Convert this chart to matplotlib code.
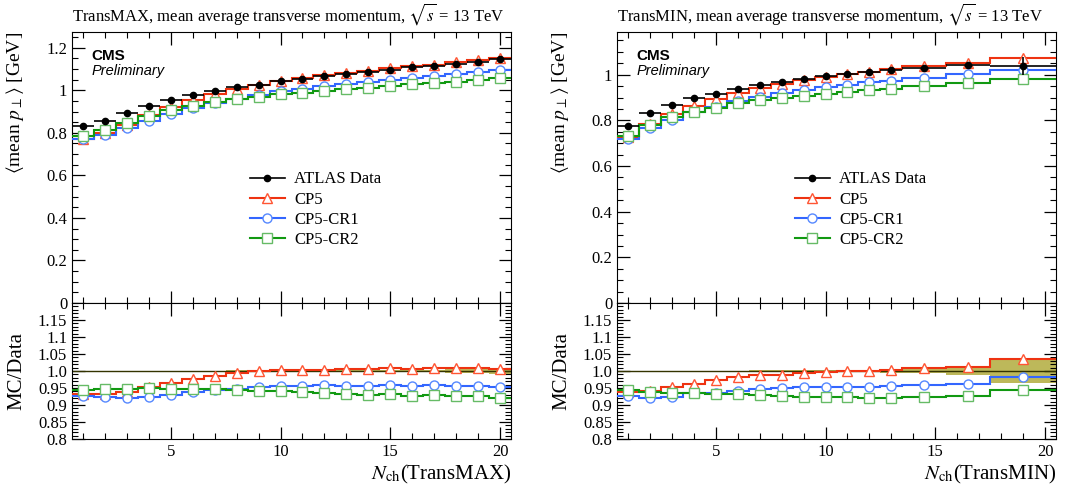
import numpy as np
import matplotlib
matplotlib.use("Agg")
import matplotlib.pyplot as plt
from matplotlib.lines import Line2D
from matplotlib.ticker import MultipleLocator, FixedLocator

plt.rcParams['font.family'] = 'serif'
plt.rcParams['font.serif'] = ['Liberation Serif', 'DejaVu Serif']
plt.rcParams['mathtext.fontset'] = 'stix'

# ---- TransMAX (left) ----
max_edges = [0.5 + i for i in range(21)]
max_data = [0.830, 0.856, 0.894, 0.928, 0.956, 0.978, 0.998, 1.014, 1.027, 1.042,
            1.053, 1.066, 1.077, 1.0875, 1.094, 1.109, 1.1125, 1.123, 1.133, 1.148]
max_err = [0.001, 0.001, 0.001, 0.001, 0.001, 0.001, 0.001, 0.0015, 0.0015, 0.002,
           0.002, 0.002, 0.003, 0.003, 0.003, 0.004, 0.0045, 0.0055, 0.007, 0.009]
max_cp5 = [0.773, 0.799, 0.839, 0.883, 0.921, 0.954, 0.982, 1.007, 1.026, 1.044,
           1.057, 1.070, 1.082, 1.093, 1.104, 1.116, 1.121, 1.132, 1.142, 1.154]
max_cr1 = [0.769, 0.790, 0.822, 0.856, 0.888, 0.917, 0.942, 0.961, 0.980, 0.997,
           1.006, 1.021, 1.031, 1.039, 1.048, 1.059, 1.068, 1.075, 1.084, 1.094]
max_cr2 = [0.784, 0.811, 0.847, 0.881, 0.906, 0.926, 0.945, 0.958, 0.968, 0.981,
           0.989, 0.998, 1.005, 1.012, 1.021, 1.028, 1.034, 1.041, 1.050, 1.057]

# ---- TransMIN (right) ----
min_edges = [0.5, 1.5, 2.5, 3.5, 4.5, 5.5, 6.5, 7.5, 8.5, 9.5, 10.5, 11.5, 12.5,
             13.5, 15.5, 17.5, 20.5]
min_data = [0.777, 0.832, 0.868, 0.896, 0.917, 0.938, 0.954, 0.968, 0.981, 0.993,
            1.003, 1.013, 1.020, 1.029, 1.041, 1.038]
min_err = [0.001, 0.001, 0.001, 0.001, 0.001, 0.001, 0.0015, 0.002, 0.002, 0.0025,
           0.003, 0.004, 0.005, 0.007, 0.013, 0.038]
min_cp5 = [0.728, 0.783, 0.826, 0.862, 0.893, 0.921, 0.942, 0.958, 0.975, 0.990,
           1.002, 1.013, 1.024, 1.037, 1.053, 1.074]
min_cr1 = [0.720, 0.765, 0.802, 0.837, 0.859, 0.884, 0.903, 0.920, 0.934, 0.946,
           0.957, 0.966, 0.974, 0.986, 1.002, 1.021]
min_cr2 = [0.733, 0.781, 0.813, 0.838, 0.856, 0.874, 0.887, 0.897, 0.906, 0.917,
           0.925, 0.932, 0.938, 0.949, 0.963, 0.981]

labels = ['ATLAS Data', 'CP5', 'CP5-CR1', 'CP5-CR2']
colors = ['#ee3311', '#3366ff', '#119911']
edgecols = ['#ff5533', '#5588ff', '#66bb66']
markers = ['^', 'o', 's']
band_col = '#bdb85a'

W, H = 1075, 486
fig = plt.figure(figsize=(W / 100, H / 100), dpi=100)


def px(x0, y0, w, h):
    return [x0 / W, (H - y0 - h) / H, w / W, h / H]


def style_ax(ax):
    ax.tick_params(which='both', direction='in', top=True, right=True, labelsize=12)
    ax.tick_params(which='major', length=9, width=0.9)
    ax.tick_params(which='minor', length=4.5, width=0.8)
    ax.xaxis.set_major_locator(MultipleLocator(5))
    ax.xaxis.set_minor_locator(MultipleLocator(1))
    ax.set_xlim(0.5, 20.5)


def draw(x0, top_ylim, edges, data, err, mcs, title, xname):
    edges = np.array(edges)
    cen = 0.5 * (edges[1:] + edges[:-1])
    hw = 0.5 * (edges[1:] - edges[:-1])
    data = np.array(data)
    err = np.array(err)

    ax = fig.add_axes(px(x0, 32, 439, 271))
    rax = fig.add_axes(px(x0, 303, 439, 136))
    style_ax(ax)
    style_ax(rax)

    # main panel
    for mc, c, ec, m in zip(mcs, colors, edgecols, markers):
        ax.stairs(mc, edges, baseline=None, color=c, lw=1.5, zorder=3)
        ax.plot(cen, mc, ls='none', marker=m, ms=6.5, mfc='white', mec=ec, mew=1.0, zorder=4)
    ax.errorbar(cen, data, xerr=hw, yerr=err, fmt='o', color='k', ms=4.5,
                elinewidth=1.2, capsize=0, zorder=5)
    ax.set_ylim(*top_ylim)
    ax.yaxis.set_major_locator(MultipleLocator(0.2))
    ax.yaxis.set_minor_locator(MultipleLocator(0.05))
    ax.yaxis.set_major_formatter(plt.FuncFormatter(lambda v, p: '%g' % round(v, 2)))
    ax.tick_params(labelbottom=False)
    ax.set_ylabel(r'$\langle$mean $p_\perp\rangle$ [GeV]', fontsize=14, loc='top')
    ax.yaxis.set_label_coords(-0.105, 1.0)
    ax.set_title(title, fontsize=12, loc='left', pad=8)
    ax.text(0.045, 0.91, 'CMS', transform=ax.transAxes, fontsize=11,
            fontweight='bold', family='Liberation Sans', va='center')
    ax.text(0.045, 0.855, 'Preliminary', transform=ax.transAxes, fontsize=10.5,
            style='italic', family='Liberation Sans', va='center')

    handles = [Line2D([], [], color='k', marker='o', ms=4.5, lw=1.2)]
    for c, ec, m in zip(colors, edgecols, markers):
        handles.append(Line2D([], [], color=c, lw=1.5, marker=m, ms=6.5, mfc='white', mec=ec))
    ax.legend(handles, labels, loc='upper left', bbox_to_anchor=(0.39, 0.51),
              frameon=False, fontsize=12, handlelength=2.1, labelspacing=0.25,
              handletextpad=0.55, borderaxespad=0)

    # ratio panel
    rel = err / data
    rax.stairs(1 + rel, edges, baseline=1 - rel, fill=True, color=band_col, zorder=1)
    rax.axhline(1.0, color='#333300', lw=1.0, zorder=2)
    for mc, c, ec, m in zip(mcs, colors, edgecols, markers):
        r = np.array(mc) / data
        rax.stairs(r, edges, baseline=None, color=c, lw=1.5, zorder=3)
        rax.plot(cen, r, ls='none', marker=m, ms=6.5, mfc='white', mec=ec, mew=1.0, zorder=4)
    rax.set_ylim(0.8, 1.2)
    rticks = [0.8, 0.85, 0.9, 0.95, 1.0, 1.05, 1.1, 1.15]
    rax.yaxis.set_major_locator(FixedLocator(rticks))
    rax.set_yticklabels(['0.8', '0.85', '0.9', '0.95', '1.0', '1.05', '1.1', '1.15'])
    rax.yaxis.set_minor_locator(MultipleLocator(0.01))
    rax.set_ylabel('MC/Data', fontsize=15)
    rax.yaxis.set_label_coords(-0.105, 0.5)
    rax.set_xlabel(r'$N_\mathrm{ch}$(' + xname + ')', fontsize=15, loc='right', labelpad=2)


draw(72, (0, 1.274), max_edges, max_data, max_err, [max_cp5, max_cr1, max_cr2],
     r'TransMAX, mean average transverse momentum, $\sqrt{s}$ = 13 TeV', 'TransMAX')
draw(617, (0, 1.187), min_edges, min_data, min_err, [min_cp5, min_cr1, min_cr2],
     r'TransMIN, mean average transverse momentum, $\sqrt{s}$ = 13 TeV', 'TransMIN')

fig.savefig('out.png', dpi=100)
